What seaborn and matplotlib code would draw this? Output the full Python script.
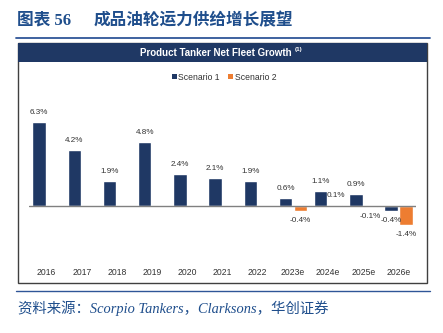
import matplotlib
matplotlib.use("Agg")
import matplotlib.pyplot as plt
from matplotlib.patches import Rectangle, Patch
from matplotlib.lines import Line2D
import seaborn as sns
import pandas as pd
import numpy as np

sns.set_theme(style="white")
plt.rcParams['font.family'] = ['Liberation Sans', 'Noto Sans CJK SC', 'DejaVu Sans']

years = ["2016", "2017", "2018", "2019", "2020", "2021", "2022",
         "2023e", "2024e", "2025e", "2026e"]
scenario1 = [6.3, 4.2, 1.9, 4.8, 2.4, 2.1, 1.9, 0.6, 1.1, 0.9, -0.4]
scenario2 = [None, None, None, None, None, None, None, -0.4, 0.1, -0.1, -1.4]
series_names = ["Scenario 1", "Scenario 2"]
colors = ["#1f3864", "#ed7d31"]

rows = []
for y, v in zip(years, scenario1):
    rows.append({"year": y, "scenario": series_names[0], "value": v})
for y, v in zip(years, scenario2):
    if v is not None:
        rows.append({"year": y, "scenario": series_names[1], "value": v})
df = pd.DataFrame(rows)

W, H = 443, 333
fig = plt.figure(figsize=(W / 100, H / 100), dpi=100)
fig.patch.set_facecolor("white")

def fx(px):
    return px / W

def fy(py):
    return 1 - py / H

ax = fig.add_axes([fx(29), fy(262), fx(416) - fx(29), fy(85) - fy(262)])
sns.barplot(data=df, x="year", y="value", hue="scenario", order=years,
            hue_order=series_names, palette=colors, width=0.84, gap=0.09,
            dodge=True, saturation=1, ax=ax, legend=False, errorbar=None)
ax.set_xlim(-0.5, len(years) - 0.5)
ax.set_ylim(-4.19, 9.06)
ax.axhline(0, color="#808080", lw=1.0, zorder=3)
for s in ax.spines.values():
    s.set_visible(False)
ax.set_yticks([])
ax.set_xlabel("")
ax.set_ylabel("")
ax.tick_params(axis="x", length=0, pad=4.5, labelsize=6.2, labelcolor="#333333")
ax.set_facecolor("none")

for cont in ax.containers:
    ax.bar_label(cont, fmt="{:.1f}%", padding=4.3, fontsize=5.9, color="#333333")

# Header band and frame
fig.patches.append(Rectangle((fx(18.3), fy(283.3)), fx(426.7) - fx(18.3), fy(42.7) - fy(283.3),
                             transform=fig.transFigure, facecolor="none",
                             edgecolor="#404040", lw=1.0, zorder=0))
fig.patches.append(Rectangle((fx(18.3), fy(61.7)), fx(426.7) - fx(18.3), fy(42.7) - fy(61.7),
                             transform=fig.transFigure, facecolor="#1f3864",
                             edgecolor="none", zorder=1))
fig.text(fx(216), fy(52.5), "Product Tanker Net Fleet Growth", color="white",
         fontsize=7.0, fontweight="bold", ha="center", va="center")
fig.text(fx(298.7), fy(50), "(1)", color="white", fontsize=4.5,
         fontweight="bold", ha="center", va="center")

# Legend
handles = [Patch(facecolor=c, edgecolor="none") for c in colors]
fig.legend(handles, series_names, loc="center", bbox_to_anchor=(fx(224), fy(77)),
           ncol=2, frameon=False, fontsize=6.2, handlelength=0.6, handleheight=0.6,
           handletextpad=0.15, columnspacing=1.0, borderpad=0, labelcolor="#333333")

# Title and rules
title_color = "#1f4e8c"
fig.text(fx(17), fy(20), "图表 56", color=title_color, fontsize=12,
         fontweight="bold", ha="left", va="center",
         family=["Liberation Serif", "Noto Sans CJK SC"])
fig.text(fx(94), fy(20), "成品油轮运力供给增长展望", color=title_color, fontsize=12,
         fontweight="bold", ha="left", va="center",
         family=["Noto Sans CJK SC", "DejaVu Sans"])
fig.lines.append(Line2D([fx(16), fx(430)], [fy(37.7), fy(37.7)], transform=fig.transFigure,
                        color="#2f5597", lw=1.3))
fig.lines.append(Line2D([fx(16), fx(430)], [fy(291), fy(291)], transform=fig.transFigure,
                        color="#2f5597", lw=1.0))
fig.text(fx(18), fy(308), "资料来源：Scorpio Tankers，Clarksons，华创证券", color=title_color,
         fontsize=10.4, style="italic", ha="left", va="center",
         family=["Liberation Serif", "Noto Sans CJK SC"])

fig.savefig("out.png", dpi=100, facecolor="white")
